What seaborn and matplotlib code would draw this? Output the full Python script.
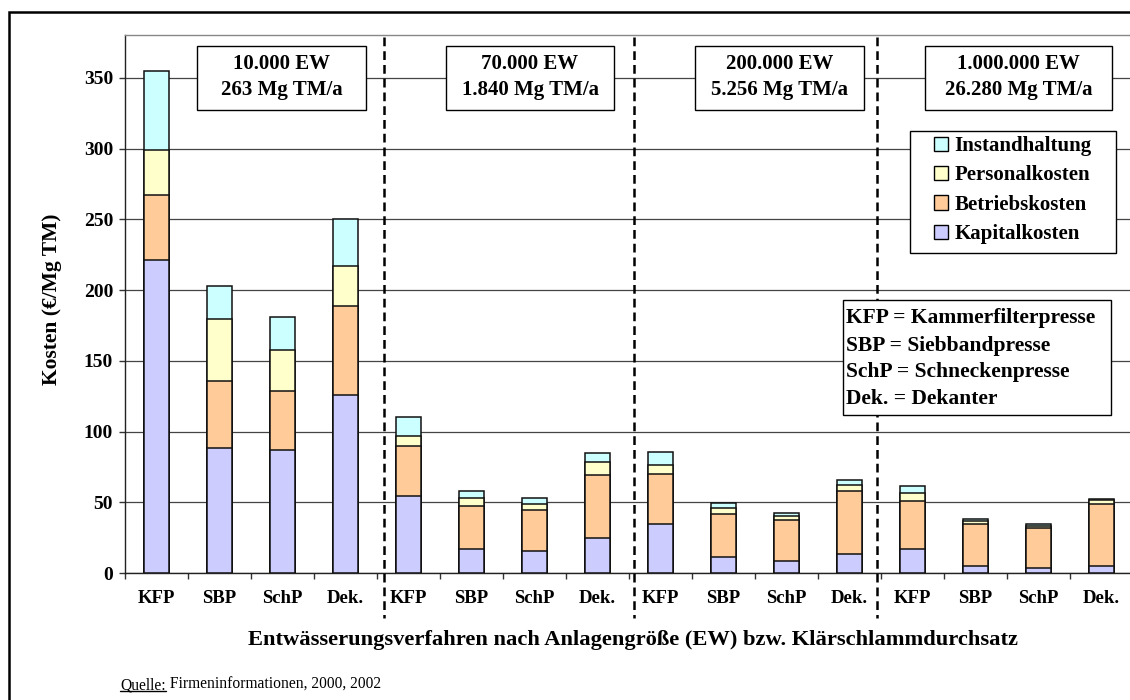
import numpy as np
import pandas as pd
import matplotlib
matplotlib.use("Agg")
import matplotlib.pyplot as plt
from matplotlib.patches import Rectangle, Patch
from matplotlib.lines import Line2D
import seaborn as sns

# Dewatering processes, repeated for each plant size
verfahren = ["KFP", "SBP", "SchP", "Dek."]
anlagengroessen = [
    "10.000 EW\n263 Mg TM/a",
    "70.000 EW\n1.840 Mg TM/a",
    "200.000 EW\n5.256 Mg TM/a",
    "1.000.000 EW\n26.280 Mg TM/a",
]

# Cost components in EUR per Mg dry matter (KFP, SBP, SchP, Dek. per plant size)
kapitalkosten = [221.5, 88.4, 87.2, 126.1,
                 54.7, 16.8, 15.4, 24.4,
                 34.8, 11.6, 8.5, 13.3,
                 17.2, 5.2, 3.8, 5.2]
betriebskosten = [45.5, 47.6, 41.5, 62.9,
                  35.1, 30.4, 29.4, 44.6,
                  34.9, 30.1, 28.7, 44.5,
                  33.7, 29.7, 28.0, 43.9]
personalkosten = [31.9, 43.6, 28.7, 28.3,
                  6.9, 6.1, 4.0, 9.2,
                  6.4, 4.5, 2.8, 4.3,
                  5.9, 2.1, 1.2, 2.3]
instandhaltung = [55.8, 23.1, 23.4, 33.0,
                  13.3, 4.8, 4.3, 6.6,
                  9.2, 3.3, 2.4, 3.8,
                  4.5, 1.4, 1.7, 1.0]

abkuerzungen = [
    "KFP = Kammerfilterpresse",
    "SBP = Siebbandpresse",
    "SchP = Schneckenpresse",
    "Dek. = Dekanter",
]

farben = {
    "Instandhaltung": "#CCFFFF",
    "Personalkosten": "#FFFFCC",
    "Betriebskosten": "#FFCC99",
    "Kapitalkosten": "#CCCCFF",
}

sns.set_theme(style="white")
plt.rcParams["font.family"] = ["Liberation Serif", "DejaVu Serif"]
plt.rcParams["font.weight"] = "bold"
for key in ["text.color", "axes.labelcolor", "xtick.color", "ytick.color"]:
    plt.rcParams[key] = "black"

W, H = 1130, 700
fig = plt.figure(figsize=(W / 100, H / 100), dpi=100)


def fx(px):
    return px / W


def fy(py):
    return 1 - py / H


ax = fig.add_axes([fx(125), fy(573), (1133 - 125) / W, (573 - 35) / H])

n = len(kapitalkosten)
df = pd.DataFrame({
    "pos": np.arange(n),
    "Kapitalkosten": kapitalkosten,
    "Betriebskosten": betriebskosten,
    "Personalkosten": personalkosten,
    "Instandhaltung": instandhaltung,
})
# Cumulative heights for the stacked bars
df["stufe_k"] = df["Kapitalkosten"]
df["stufe_b"] = df["stufe_k"] + df["Betriebskosten"]
df["stufe_p"] = df["stufe_b"] + df["Personalkosten"]
df["stufe_i"] = df["stufe_p"] + df["Instandhaltung"]

schichten = [
    ("stufe_i", "Instandhaltung"),
    ("stufe_p", "Personalkosten"),
    ("stufe_b", "Betriebskosten"),
    ("stufe_k", "Kapitalkosten"),
]
for spalte, name in schichten:
    sns.barplot(data=df, x="pos", y=spalte, color=farben[name], saturation=1,
                width=0.41, edgecolor="#111111", linewidth=1.1, errorbar=None,
                ax=ax, zorder=3)

# Axes, ticks and grid
ax.set_xlim(-0.5, n - 0.5)
ax.set_ylim(0, 380.4)
ax.set_yticks(np.arange(0, 351, 50))
ax.yaxis.grid(True, color="#444444", linewidth=0.9)
ax.xaxis.grid(False)
ax.set_axisbelow(True)

ax.set_xticks(np.arange(n))
ax.set_xticklabels(verfahren * len(anlagengroessen))
ax.set_xticks(np.arange(-0.5, n, 1), minor=True)
ax.tick_params(axis="x", which="major", bottom=True, length=0, pad=12, labelsize=13.5)
ax.tick_params(axis="x", which="minor", bottom=True, length=4.3, width=1,
               direction="out", color="#333333")
ax.tick_params(axis="y", left=True, length=4.3, width=1, direction="out",
               pad=4.3, labelsize=14, color="#333333")

for side in ["left", "bottom"]:
    ax.spines[side].set_color("#222222")
    ax.spines[side].set_linewidth(1.0)
ax.spines["top"].set_color("#888888")
ax.spines["top"].set_linewidth(1.0)
ax.spines["right"].set_visible(False)

ax.set_ylabel("Kosten (€/Mg TM)", fontsize=15.5, fontweight="bold")
ax.yaxis.set_label_coords(-0.0625, 0.509)
ax.set_xlabel("Entwässerungsverfahren nach Anlagengröße (EW) bzw. Klärschlammdurchsatz",
              fontsize=16.2, fontweight="bold")
ax.xaxis.set_label_coords(0.504, -0.1060)

# Dashed separators between the plant sizes
for xp in [384, 633.5, 877]:
    fig.add_artist(Line2D([fx(xp), fx(xp)], [fy(37), fy(618)], color="black",
                          linewidth=1.8, linestyle=(0, (3.5, 2)), zorder=2))

# Plant size boxes
boxen = [(197, 366), (446, 614), (695, 864), (925, 1112)]
for (x0, x1), text in zip(boxen, anlagengroessen):
    fig.add_artist(Rectangle((fx(x0), fy(110)), fx(x1) - fx(x0), fy(46) - fy(110),
                             facecolor="white", edgecolor="black", linewidth=1.0,
                             zorder=3))
    fig.text(fx((x0 + x1) / 2), fy(77), text, ha="center", va="center",
             multialignment="center", fontsize=15, fontweight="bold",
             linespacing=1.35, zorder=4)

# Legend
fig.add_artist(Rectangle((fx(910), fy(253)), fx(1116) - fx(910), fy(131) - fy(253),
                         facecolor="white", edgecolor="black", linewidth=1.0, zorder=3))
handles = [Patch(facecolor=farben[k], edgecolor="black", linewidth=1.0)
           for k in ["Instandhaltung", "Personalkosten", "Betriebskosten", "Kapitalkosten"]]
leg = fig.legend(handles, ["Instandhaltung", "Personalkosten", "Betriebskosten", "Kapitalkosten"],
                 loc="upper left", bbox_to_anchor=(fx(934), fy(136)),
                 bbox_transform=fig.transFigure, frameon=False, fontsize=15,
                 handlelength=0.67, handleheight=0.67, handletextpad=0.3,
                 labelspacing=0.45, borderpad=0, borderaxespad=0)
leg.set_zorder(5)
for t in leg.get_texts():
    t.set_fontweight("bold")
    t.set_color("black")

# Abbreviation box
fig.add_artist(Rectangle((fx(843), fy(415)), fx(1111) - fx(843), fy(300) - fy(415),
                         facecolor="white", edgecolor="black", linewidth=1.0, zorder=3))
for i, zeile in enumerate(abkuerzungen):
    fig.text(fx(846), fy(316 + i * 27), zeile, ha="left", va="center_baseline",
             fontsize=15.5, fontweight="bold", zorder=4)

# Outer frame
fig.add_artist(Rectangle((fx(9), fy(710)), fx(1140) - fx(9), fy(12) - fy(710),
                         facecolor="none", edgecolor="black", linewidth=1.8, zorder=6))

# Source line with underlined prefix
renderer = fig.canvas.get_renderer()
tq = fig.text(fx(120), fy(689), "Quelle:", ha="left", va="baseline",
              fontsize=11.2, fontweight="normal")
bb = tq.get_window_extent(renderer)
fig.text(bb.x1 / W, fy(689), " Firmeninformationen, 2000, 2002", ha="left",
         va="baseline", fontsize=11.2, fontweight="normal")
fig.add_artist(Line2D([bb.x0 / W, bb.x1 / W], [fy(690.5), fy(690.5)], color="black",
                      linewidth=1.0))

fig.savefig("out.png", dpi=100)
